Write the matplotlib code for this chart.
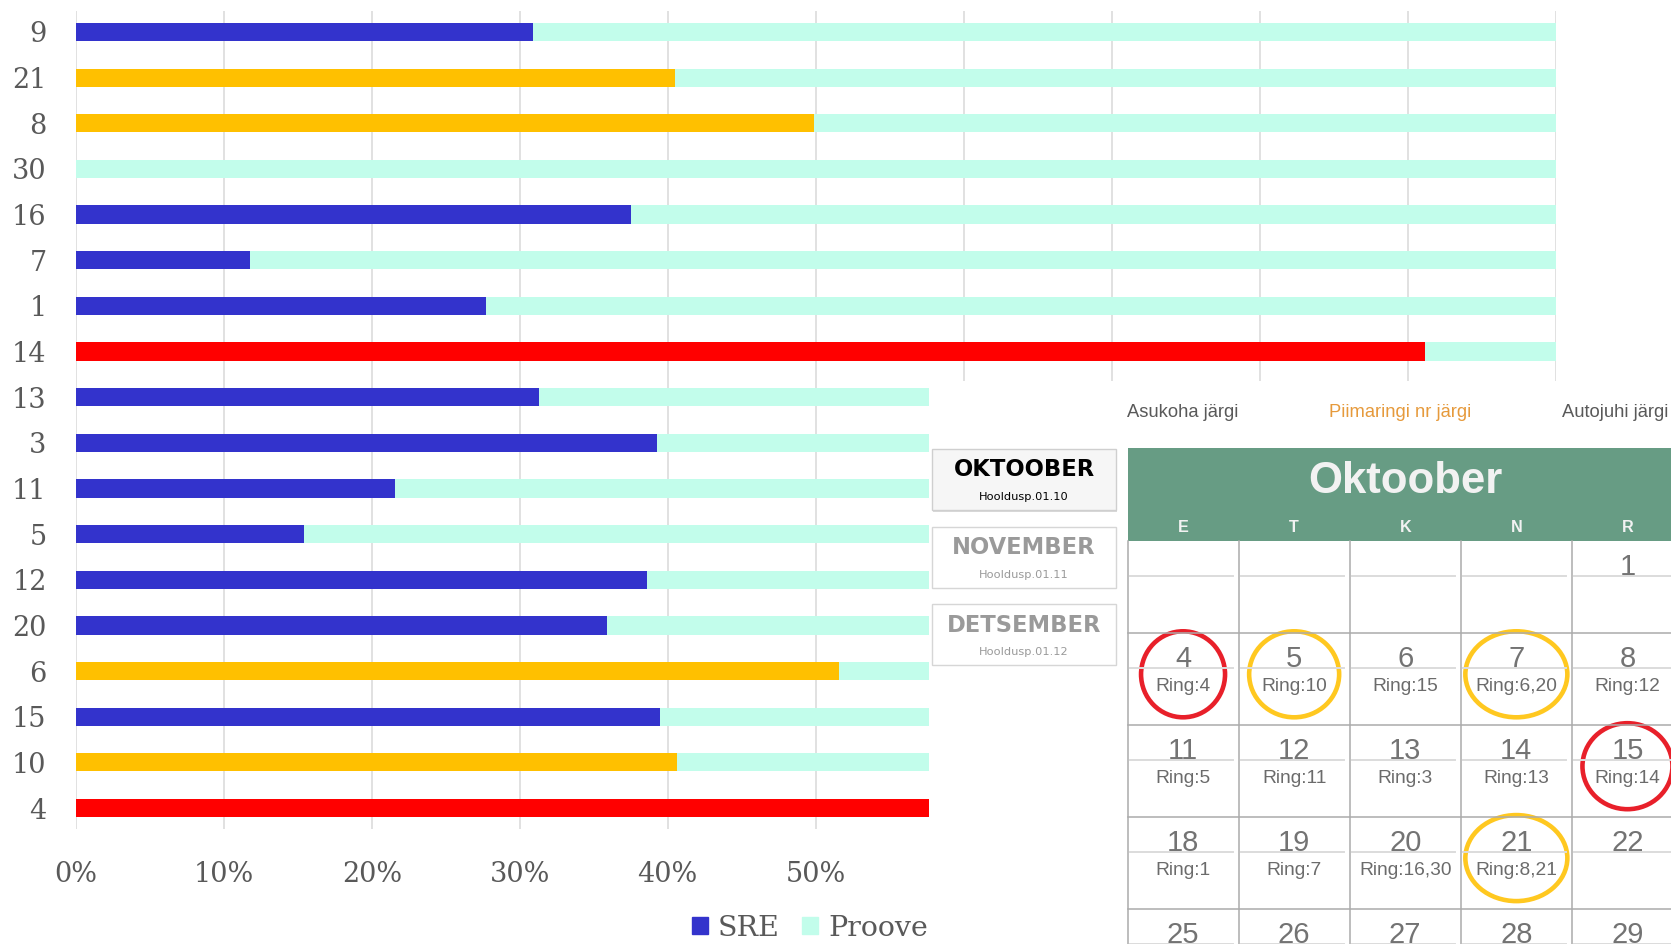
import matplotlib
matplotlib.use("Agg")
import matplotlib.pyplot as plt
from matplotlib import font_manager
from matplotlib.patches import Rectangle, Ellipse, Patch
import numpy as np

# bar chart data (top to bottom)
rings = ["9", "21", "8", "30", "16", "7", "1", "14", "13", "3", "11", "5", "12", "20", "6", "15", "10", "4"]
sre = [30.9, 40.5, 49.9, 0.0, 37.5, 11.8, 27.7, 91.2, 31.3, 39.3, 21.6, 15.4, 38.6, 35.9, 51.6, 39.5, 40.6, 80.0]
status = ["ok", "warn", "warn", "ok", "ok", "ok", "ok", "bad", "ok", "ok",
          "ok", "ok", "ok", "ok", "warn", "ok", "warn", "bad"]
xticks = [0, 10, 20, 30, 40, 50, 60, 70, 80, 90, 100]

# calendar widget data
tabs = ["Asukoha järgi", "Piimaringi nr järgi", "Autojuhi järgi"]
months = ["OKTOOBER", "NOVEMBER", "DETSEMBER"]
month_dates = ["Hooldusp.01.10", "Hooldusp.01.11", "Hooldusp.01.12"]
cal_title = "Oktoober"
weekdays = ["E", "T", "K", "N", "R"]
cal_days = [[None, None, None, None, 1],
            [4, 5, 6, 7, 8],
            [11, 12, 13, 14, 15],
            [18, 19, 20, 21, 22],
            [25, 26, 27, 28, 29]]
cal_rings = [["", "", "", "", ""],
             ["4", "10", "15", "6,20", "12"],
             ["5", "11", "3", "13", "14"],
             ["1", "7", "16,30", "8,21", ""],
             ["", "", "", "", ""]]

BLUE, ORANGE, RED, MINT = "#3333CC", "#FFC000", "#FF0000", "#C2FDEB"
bar_col = {"ok": BLUE, "warn": ORANGE, "bad": RED}
ring_col = {"warn": "#FFC820", "bad": "#E8202A"}
GREY = "#595959"

names = {f.name for f in font_manager.fontManager.ttflist}
if "Liberation Sans Narrow" in names:
    narrow, tab_fs = "Liberation Sans Narrow", 14.4
else:
    narrow, tab_fs = "Liberation Sans", 13.2

W, H = 1671, 944
fig = plt.figure(figsize=(W / 100, H / 100), dpi=100)

ax = fig.add_axes([75.8 / W, 1 - 829 / H, (1555.6 - 75.8) / W, (829 - 11) / H])
y = np.arange(len(rings))
vals = np.array(sre)
ax.barh(y, vals, height=0.4, color=[bar_col[s] for s in status], zorder=2)
ax.barh(y, 100 - vals, left=vals, height=0.4, color=MINT, zorder=2)
ax.set_xlim(0, 100)
ax.set_ylim(len(rings) - 0.54, -0.46)
ax.set_xticks(xticks)
ax.set_xticklabels([f"{v}%" for v in xticks])
ax.set_yticks(y)
ax.set_yticklabels(rings)
ax.xaxis.grid(True, color="#D9D9D9", lw=1.1)
ax.set_axisbelow(True)
for s in ax.spines.values():
    s.set_visible(False)
ax.tick_params(axis="y", length=0, pad=21)
ax.tick_params(axis="x", length=0, pad=23)
for lab in ax.get_xticklabels() + ax.get_yticklabels():
    lab.set_fontfamily("DejaVu Serif")
    lab.set_fontsize(19.5)
    lab.set_color(GREY)
# labels from 60% on sit under the calendar widget
for lab, v in zip(ax.get_xticklabels(), xticks):
    if v > 55:
        lab.set_visible(False)

handles = [Patch(color=BLUE, label="SRE"), Patch(color=MINT, label="Proove")]
leg = ax.legend(handles=handles, loc="center", bbox_to_anchor=(810 / W, 1 - 928 / H),
                bbox_transform=fig.transFigure, ncol=2, frameon=False,
                prop={"family": "DejaVu Serif", "size": 20.5}, labelcolor=GREY,
                handlelength=0.55, handleheight=0.55, handletextpad=0.35, columnspacing=0.8)

# overlay widget in pixel coordinates
ov = fig.add_axes([0, 0, 1, 1])
ov.set_xlim(0, W)
ov.set_ylim(H, 0)
ov.axis("off")
ov.add_patch(Rectangle((929, 381), W - 929, H - 381, fc="white", ec="none"))

tab_x = [1183, 1400, 1615]
tab_c = [GREY, "#E69A3C", GREY]
for t, tx, tc in zip(tabs, tab_x, tab_c):
    ov.text(tx, 417, t, ha="center", va="baseline", color=tc, fontsize=tab_fs, family=narrow)

box_top = [449, 526.7, 604]
for i, (m, d, top) in enumerate(zip(months, month_dates, box_top)):
    if i == 0:
        ov.add_patch(Rectangle((933, top + 1.5), 184, 61, fc="#DADADA", ec="none"))
        ov.add_patch(Rectangle((932, top), 184, 61, fc="#F6F6F6", ec="#CFCFCF", lw=1))
        tc = "black"
    else:
        ov.add_patch(Rectangle((932, top), 184, 61, fc="white", ec="#D6D6D6", lw=1))
        tc = "#9A9A9A"
    ov.text(1024, top + 27.5, m, ha="center", va="baseline", color=tc, fontsize=16.3,
            family="DejaVu Sans", fontweight="bold")
    ov.text(1024, top + 51, d, ha="center", va="baseline", color=tc, fontsize=8.2,
            family="DejaVu Sans")

x0, col_w = 1127.5, 111.1
y0, row_h = 541.4, 91.9
ov.add_patch(Rectangle((x0, 447.6), W - x0, y0 - 447.6, fc="#679C84", ec="none"))
ov.text(x0 + 2.5 * col_w, 493, cal_title, ha="center", va="baseline", color="#F2F2F2",
        fontsize=31.5, family="Liberation Sans", fontweight="bold")
for c, wd in enumerate(weekdays):
    ov.text(x0 + (c + 0.5) * col_w, 532.5, wd, ha="center", va="baseline", color="#F2F2F2",
            fontsize=11.6, family="Liberation Sans", fontweight="bold")

for c in range(6):
    ov.plot([x0 + c * col_w] * 2, [y0, H], color="#ABABAB", lw=1.1)
for r in range(1, 5):
    ov.plot([x0, W], [y0 + r * row_h] * 2, color="#ABABAB", lw=1.1)

# status of each ring, used to mark calendar days
ring_status = dict(zip(rings, status))
for r, week in enumerate(cal_days):
    top = y0 + r * row_h
    for c, day in enumerate(week):
        left = x0 + c * col_w
        cx = left + col_w / 2
        ov.plot([left + 2, left + col_w - 6], [top + 34.5] * 2, color="#DCDCDC", lw=1.4)
        if day is None:
            continue
        ov.text(cx, top + 33.8, str(day), ha="center", va="baseline", color="#737373",
                fontsize=21, family="Liberation Sans")
        txt = cal_rings[r][c]
        if not txt:
            continue
        ov.text(cx, top + 58, "Ring:" + txt, ha="center", va="baseline", color="#6B6B6B",
                fontsize=13.8, family="Liberation Sans")
        st = [ring_status[k] for k in txt.split(",")]
        mark = "bad" if "bad" in st else ("warn" if "warn" in st else None)
        if mark:
            ov.add_patch(Ellipse((cx, top + 41), 78 + 6 * len(txt), 86, fc="none",
                                 ec=ring_col[mark], lw=3.3))

fig.savefig("out.png", dpi=100)
